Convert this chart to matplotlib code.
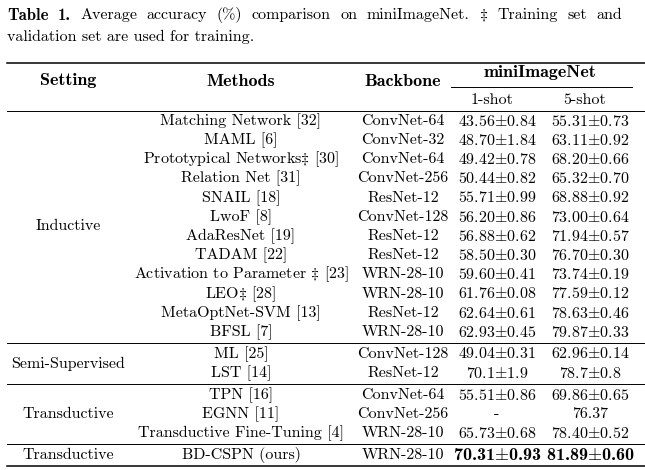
import matplotlib
matplotlib.use("Agg")
import matplotlib.pyplot as plt

# table contents
settings = ["Inductive", "Semi-Supervised", "Transductive", "Transductive"]
group_sizes = [12, 2, 3, 1]
methods = [
    "Matching Network [32]", "MAML [6]", "Prototypical Networks‡ [30]",
    "Relation Net [31]", "SNAIL [18]", "LwoF [8]", "AdaResNet [19]",
    "TADAM [22]", "Activation to Parameter ‡ [23]", "LEO‡ [28]",
    "MetaOptNet-SVM [13]", "BFSL [7]",
    "ML [25]", "LST [14]",
    "TPN [16]", "EGNN [11]", "Transductive Fine-Tuning [4]",
    "BD-CSPN (ours)",
]
backbones = [
    "ConvNet-64", "ConvNet-32", "ConvNet-64", "ConvNet-256", "ResNet-12",
    "ConvNet-128", "ResNet-12", "ResNet-12", "WRN-28-10", "WRN-28-10",
    "ResNet-12", "WRN-28-10",
    "ConvNet-128", "ResNet-12",
    "ConvNet-64", "ConvNet-256", "WRN-28-10",
    "WRN-28-10",
]
shot1 = [
    "43.56±0.84", "48.70±1.84", "49.42±0.78", "50.44±0.82", "55.71±0.99",
    "56.20±0.86", "56.88±0.62", "58.50±0.30", "59.60±0.41", "61.76±0.08",
    "62.64±0.61", "62.93±0.45",
    "49.04±0.31", "70.1±1.9",
    "55.51±0.86", "-", "65.73±0.68",
    "70.31±0.93",
]
shot5 = [
    "55.31±0.73", "63.11±0.92", "68.20±0.66", "65.32±0.70", "68.88±0.92",
    "73.00±0.64", "71.94±0.57", "76.70±0.30", "73.74±0.19", "77.59±0.12",
    "78.63±0.46", "79.87±0.33",
    "62.96±0.14", "78.7±0.8",
    "69.86±0.65", "76.37", "78.40±0.52",
    "81.89±0.60",
]
bold_rows = [17]

caption_label = "Table 1."
caption = [
    "Average accuracy (%) comparison on miniImageNet. ‡ Training set and",
    "validation set are used for training.",
]


def tex(s):
    return s.replace("±", r"$\pm$").replace("‡", r"$\ddagger$")


plt.rcParams["mathtext.fontset"] = "cm"
plt.rcParams["axes.formatter.use_mathtext"] = True
REG = "cmr10"
BOLD = "cmb10"
FS = 11.5
FS_B = 13

fig = plt.figure(figsize=(6.45, 4.7), dpi=100)
ax = fig.add_axes([0, 0, 1, 1])
ax.set_xlim(0, 645)
ax.set_ylim(470, 0)
ax.axis("off")
renderer = fig.canvas.get_renderer()

# column centres (pixels)
x_set, x_meth, x_bb, x_1, x_5 = 68, 241, 403, 497, 590
x_left, x_right = 7, 645
cap_right = 622


def word_width(t):
    return t.get_window_extent(renderer).width


# caption, first line justified like LaTeX
words = [(caption_label.split()[0], BOLD, FS + 0.5),
         (caption_label.split()[1], BOLD, FS + 0.5)]
words += [(w, REG, FS) for w in caption[0].split()]
objs = [ax.text(0, 15, tex(w), fontsize=s, family=f, ha="left", va="center")
        for w, f, s in words]
widths = [word_width(t) for t in objs]
gap = (cap_right - x_left - sum(widths)) / (len(objs) - 1)
x = x_left
for t, w in zip(objs, widths):
    t.set_x(x)
    x += w + gap
ax.text(x_left, 37, caption[1], fontsize=FS, family=REG, ha="left", va="center")

# header
y_top, y_head, y_sub, y_hrule = 63, 81, 100, 111
ax.plot([x_left, x_right], [y_top, y_top], color="black", lw=1.1)
for x, s in [(x_set, "Setting"), (x_meth, "Methods"), (x_bb, "Backbone")]:
    ax.text(x, y_head, s, fontsize=FS_B, family=BOLD, ha="center", va="center")
ax.text((x_1 + x_5) / 2 - 3, 73, "miniImageNet", fontsize=FS_B, family=BOLD,
        ha="center", va="center")
ax.plot([451, 632], [87, 87], color="black", lw=0.7)
ax.text(x_1 - 5, y_sub, "1-shot", fontsize=FS, family=REG, ha="center", va="center")
ax.text(x_5 - 5, y_sub, "5-shot", fontsize=FS, family=REG, ha="center", va="center")
ax.plot([x_left, x_right], [y_hrule, y_hrule], color="black", lw=0.7)

# body rows
row_h = 19.2
rule_gap = 2.6
y0 = 121
row_y = []
start = 0
for g, n in enumerate(group_sizes):
    for i in range(n):
        row_y.append(y0 + (start + i) * row_h + g * rule_gap)
    start += n

start = 0
for g, (name, n) in enumerate(zip(settings, group_sizes)):
    ys = row_y[start:start + n]
    ax.text(x_set, (ys[0] + ys[-1]) / 2, name, fontsize=FS, family=REG,
            ha="center", va="center")
    start += n
    if g < len(group_sizes) - 1:
        yr = (row_y[start - 1] + row_y[start]) / 2
        ax.plot([x_left, x_right], [yr, yr], color="black", lw=0.7)

for r, y in enumerate(row_y):
    ax.text(x_meth, y, tex(methods[r]), fontsize=FS, family=REG,
            ha="center", va="center")
    ax.text(x_bb, y, backbones[r], fontsize=FS, family=REG,
            ha="center", va="center")
    if r in bold_rows:
        fam, fs = BOLD, FS_B
    else:
        fam, fs = REG, FS
    ax.text(x_1, y, tex(shot1[r]), fontsize=fs, family=fam,
            ha="center", va="center")
    ax.text(x_5, y, tex(shot5[r]), fontsize=fs, family=fam,
            ha="center", va="center")

y_bot = row_y[-1] + 11
ax.plot([x_left, x_right], [y_bot, y_bot], color="black", lw=1.1)

fig.savefig("out.png", dpi=100)
